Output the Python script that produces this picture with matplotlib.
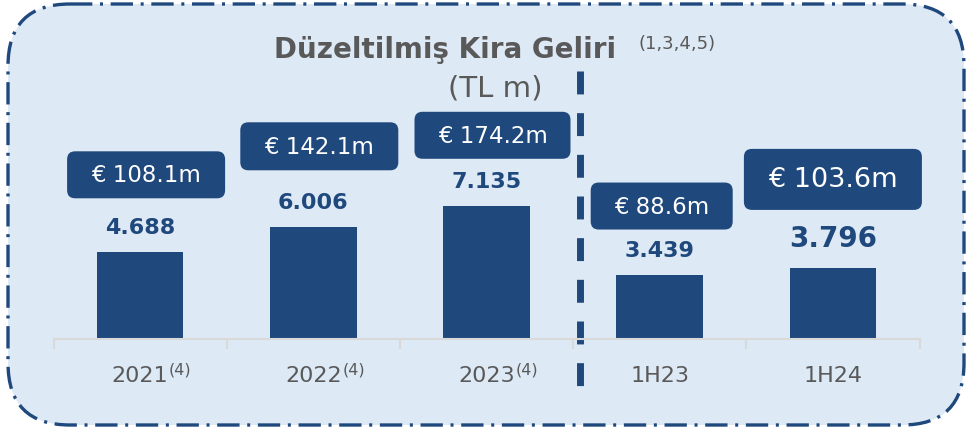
import matplotlib
matplotlib.use("Agg")
import matplotlib.pyplot as plt
from matplotlib.patches import FancyBboxPatch
from matplotlib.transforms import ScaledTranslation

# data
categories = ["2021", "2022", "2023", "1H23", "1H24"]
notes = ["(4)", "(4)", "(4)", "", ""]
values = [4.688, 6.006, 7.135, 3.439, 3.796]
value_labels = ["4.688", "6.006", "7.135", "3.439", "3.796"]
eur_labels = ["€ 108.1m", "€ 142.1m", "€ 174.2m", "€ 88.6m", "€ 103.6m"]

# style per bar (pixels, dpi=100)
box_w = [158, 158, 156, 142, 178]
box_h = [47, 48, 47, 47, 61]
box_dx = [6, 6, 6, 2, 0]
box_dy = [77, 81, 71, 69, 89]
lab_dy = [25, 25, 25, 25, 30]
lab_fs = [16, 16, 16, 16, 20]
eur_fs = [16.5, 16.5, 16.5, 16.5, 19.5]

BLUE = "#1f487c"
GRAY = "#595959"
BG = "#dde9f5"

W, H = 966, 431
fig = plt.figure(figsize=(W / 100, H / 100), dpi=100)

# rounded background panel
bg = fig.add_axes([0, 0, 1, 1])
bg.set_xlim(0, W)
bg.set_ylim(H, 0)
bg.axis("off")
panel = FancyBboxPatch((8, 5), 956, 421, boxstyle="round,pad=0,rounding_size=62",
                       facecolor=BG, edgecolor=BLUE, lw=2.4,
                       linestyle=(0, (6.7, 2.3, 0.9, 2.3)))
bg.add_patch(panel)

bg.text(445, 50, "Düzeltilmiş Kira Geliri", ha="center", va="center",
        fontsize=20, fontweight="bold", color=GRAY)
bg.text(677, 44, "(1,3,4,5)", ha="center", va="center", fontsize=13, color=GRAY)
bg.text(495, 88, "(TL m)", ha="center", va="center", fontsize=21, color=GRAY)

# bar axes
px = 18.6  # pixels per unit
base = 340
ax = fig.add_axes([53.5 / W, (H - base) / H, 866 / W, base / H])
ax.patch.set_alpha(0)
x = list(range(len(categories)))
ax.bar(x, values, width=0.5, color=BLUE)
ax.set_xlim(-0.5, len(categories) - 0.5)
ax.set_ylim(0, base / px)
for s in ["top", "right", "left"]:
    ax.spines[s].set_visible(False)
ax.spines["bottom"].set_color("#d9d9d9")
ax.spines["bottom"].set_linewidth(1.5)
ax.set_yticks([])
ax.set_xticks(x)
ax.set_xticklabels(categories, fontsize=16, color=GRAY)
ax.tick_params(axis="x", which="major", length=0, pad=19)
ax.set_xticks([i - 0.5 for i in range(len(categories) + 1)], minor=True)
ax.tick_params(axis="x", which="minor", length=7, width=1.5, color="#d9d9d9")

for i, v in enumerate(values):
    ax.annotate(value_labels[i], (i, v), xytext=(0, lab_dy[i] * 0.72),
                textcoords="offset points", ha="center", va="center",
                fontsize=lab_fs[i], fontweight="bold", color=BLUE)
    tr = fig.dpi_scale_trans + ScaledTranslation(i, v, ax.transData)
    cx, cy = box_dx[i] / 100, box_dy[i] / 100
    w, h = box_w[i] / 100, box_h[i] / 100
    box = FancyBboxPatch((cx - w / 2, cy - h / 2), w, h,
                         boxstyle="round,pad=0,rounding_size=0.08",
                         facecolor=BLUE, edgecolor="none", transform=tr, clip_on=False)
    ax.add_patch(box)
    ax.annotate(eur_labels[i], (i, v), xytext=(box_dx[i] * 0.72, box_dy[i] * 0.72),
                textcoords="offset points", ha="center", va="center",
                fontsize=eur_fs[i], color="white")
    if notes[i]:
        ax.annotate(notes[i], (i, 0), xytext=(29 * 0.72, -30 * 0.72),
                    textcoords="offset points", ha="left", va="center",
                    fontsize=11.5, color=GRAY)

# period separator
sep_x = 2.54
ax.plot([sep_x, sep_x], [(base - 72) / px, -48 / px], color=BLUE, lw=5,
        linestyle=(0, (3.3, 2.7)), solid_capstyle="butt", clip_on=False)

fig.savefig("out.png", dpi=100)
